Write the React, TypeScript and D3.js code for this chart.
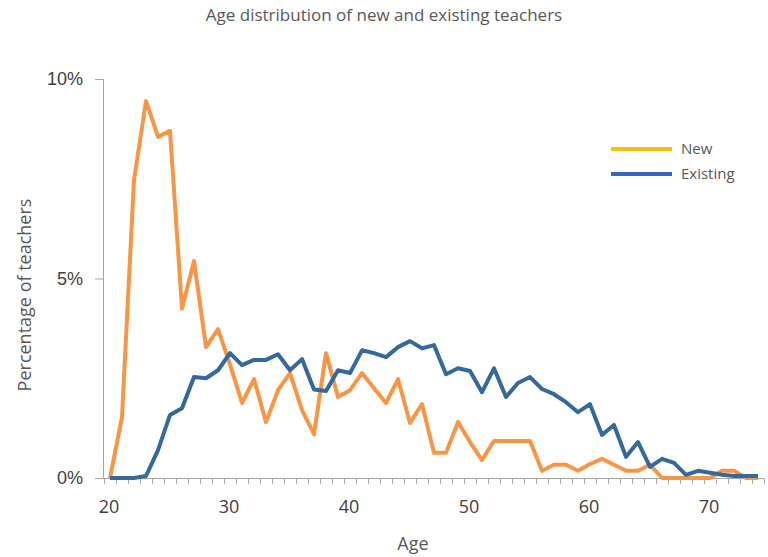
import React from "react";
import * as d3 from "d3";

const ages: number[] = Array.from({ length: 55 }, (_, i) => 20 + i);

const newTeachers: number[] = [
  0, 1.53, 7.47, 9.45, 8.55, 8.7, 4.24, 5.44, 3.28, 3.73,
  2.85, 1.88, 2.48, 1.4, 2.2, 2.63, 1.7, 1.1, 3.13, 2.03,
  2.2, 2.63, 2.25, 1.88, 2.48, 1.38, 1.85, 0.63, 0.63, 1.4,
  0.9, 0.45, 0.93, 0.93, 0.93, 0.93, 0.18, 0.33, 0.33, 0.18,
  0.35, 0.48, 0.33, 0.18, 0.18, 0.33, 0, 0, 0, 0,
  0, 0.18, 0.18, 0, 0,
];

const existingTeachers: number[] = [
  0, 0, 0, 0.05, 0.7, 1.58, 1.75, 2.53, 2.5, 2.7,
  3.13, 2.83, 2.96, 2.96, 3.1, 2.7, 2.98, 2.22, 2.18, 2.7,
  2.63, 3.2, 3.13, 3.03, 3.28, 3.43, 3.25, 3.33, 2.6, 2.75,
  2.68, 2.15, 2.75, 2.03, 2.38, 2.53, 2.23, 2.1, 1.9, 1.65,
  1.85, 1.08, 1.33, 0.53, 0.9, 0.28, 0.48, 0.38, 0.08, 0.18,
  0.13, 0.08, 0.05, 0.05, 0.05,
];

const yTicks: number[] = [0, 5, 10];
const xLabels: number[] = [20, 30, 40, 50, 60, 70];
const legendItems = ["New", "Existing"];

const TEXT = "#595959";
const AXIS = "#A6A6A6";
const FONT = "'Open Sans', sans-serif";

export default function App() {
  const x = d3.scaleBand<number>().domain(ages).range([104, 764]).padding(0);
  const bw = x.bandwidth();
  const cx = (a: number) => (x(a) as number) + bw / 2;
  const y = d3.scaleLinear().domain([0, 10]).range([478, 79]);

  const line = d3
    .line<[number, number]>()
    .x((d) => cx(d[0]))
    .y((d) => y(d[1]));

  const newPath = line(ages.map((a, i) => [a, newTeachers[i]])) || "";
  const existPath = line(ages.map((a, i) => [a, existingTeachers[i]])) || "";

  const boundaries = ages.map((a) => x(a) as number).concat([x.range()[1]]);

  const legendColors = ["#FFC000", "#3366CC"];

  return (
    <svg
      width={768}
      height={557}
      style={{ position: "absolute", left: 0, top: 0, background: "#fff" }}
      fontFamily={FONT}
    >
      <text x={384} y={21} textAnchor="middle" fontSize={17} fill={TEXT}>
        Age distribution of new and existing teachers
      </text>

      {/* y axis */}
      <line x1={103.5} x2={103.5} y1={y(10)} y2={y(0)} stroke={AXIS} strokeWidth={1} />
      {yTicks.map((t) => (
        <g key={t}>
          <line x1={95} x2={103.5} y1={y(t) + 0.5} y2={y(t) + 0.5} stroke={AXIS} />
          <text
            x={83}
            y={y(t)}
            dy="0.36em"
            textAnchor="end"
            fontSize={18}
            fontFamily="'Liberation Sans', Arial, sans-serif"
            fill="#404040"
          >
            {t}%
          </text>
        </g>
      ))}
      <text
        transform={`translate(25,${295}) rotate(-90)`}
        textAnchor="middle"
        dy="0.35em"
        fontSize={18}
        fill={TEXT}
      >
        Percentage of teachers
      </text>

      {/* x axis */}
      <line x1={103.5} x2={764} y1={478.5} y2={478.5} stroke={AXIS} />
      {boundaries.map((b, i) => (
        <line key={i} x1={b + 0.5} x2={b + 0.5} y1={478.5} y2={484} stroke={AXIS} />
      ))}
      {xLabels.map((l) => (
        <text key={l} x={cx(l) - 1} y={513} textAnchor="middle" fontSize={18} fill="#404040">
          {l}
        </text>
      ))}
      <text x={413} y={550} textAnchor="middle" fontSize={18} fill={TEXT}>
        Age
      </text>

      {/* lines */}
      <path d={newPath} fill="none" stroke="#F79646" strokeWidth={4} strokeLinejoin="round" />
      <path d={existPath} fill="none" stroke="#35689B" strokeWidth={4} strokeLinejoin="round" />

      {/* legend */}
      {legendItems.map((name, i) => (
        <g key={name}>
          <line
            x1={611}
            x2={672}
            y1={149 + i * 25}
            y2={149 + i * 25}
            stroke={legendColors[i]}
            strokeWidth={4}
          />
          <text x={681} y={149 + i * 25} dy="0.36em" fontSize={15} fill={TEXT}>
            {name}
          </text>
        </g>
      ))}
    </svg>
  );
}
